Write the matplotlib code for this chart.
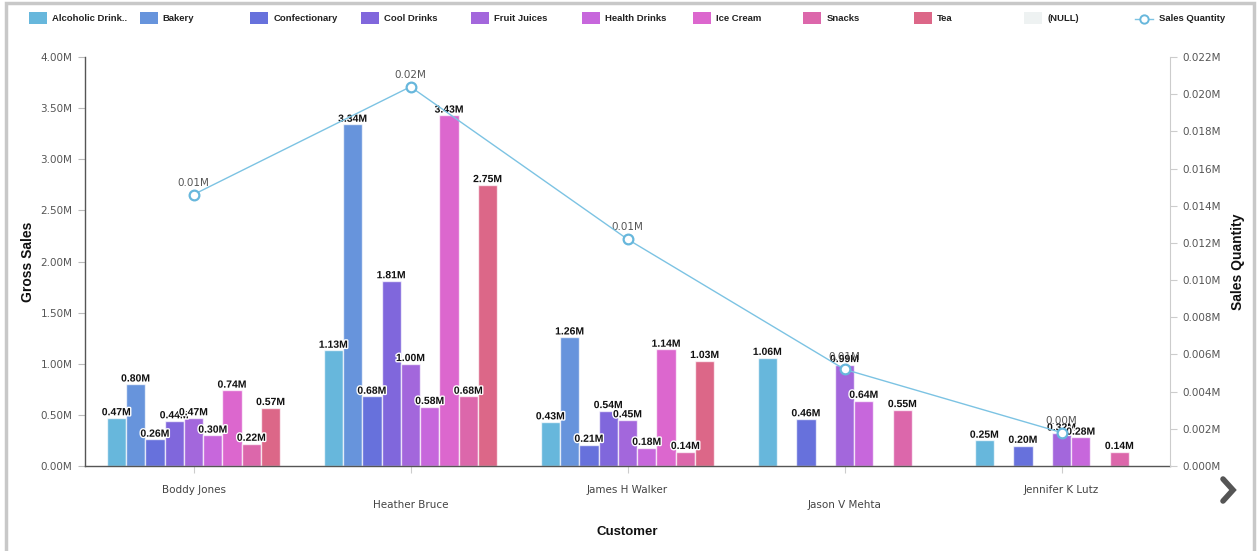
import matplotlib
matplotlib.use('Agg')
import matplotlib.pyplot as plt
import numpy as np
from matplotlib.patches import Rectangle
from matplotlib.lines import Line2D
import matplotlib.patheffects as pe
from matplotlib.ticker import FuncFormatter, MultipleLocator

# ---------------- data ----------------
customers = ["Boddy Jones", "Heather Bruce", "James H Walker", "Jason V Mehta", "Jennifer K Lutz"]
categories = ["Alcoholic Drink..", "Bakery", "Confectionary", "Cool Drinks", "Fruit Juices",
              "Health Drinks", "Ice Cream", "Snacks", "Tea", "(NULL)"]
colors = ["#67b7dc", "#6794dc", "#6771dc", "#8067dc", "#a367dc",
          "#c767dc", "#dc67ce", "#dc67ab", "#dc6788", "#eef2f2"]

gross_alcoholic = [0.47, 1.13, 0.43, 1.06, 0.25]
gross_bakery = [0.80, 3.34, 1.26, None, None]
gross_confectionary = [0.26, 0.68, 0.21, 0.46, 0.20]
gross_cool_drinks = [0.44, 1.81, 0.54, None, None]
gross_fruit_juices = [0.47, 1.00, 0.45, 0.99, 0.32]
gross_health_drinks = [0.30, 0.58, 0.18, 0.64, 0.28]
gross_ice_cream = [0.74, 3.43, 1.14, None, None]
gross_snacks = [0.22, 0.68, 0.14, 0.55, 0.14]
gross_tea = [0.57, 2.75, 1.03, None, None]
gross_null = [None, None, None, None, None]

sales_quantity = [0.0146, 0.0204, 0.0122, 0.0052, 0.0018]  # in millions

series = [gross_alcoholic, gross_bakery, gross_confectionary, gross_cool_drinks,
          gross_fruit_juices, gross_health_drinks, gross_ice_cream, gross_snacks,
          gross_tea, gross_null]

line_color = "#7cc3e3"

# ---------------- figure ----------------
W, H = 1260, 551
fig = plt.figure(figsize=(W / 100, H / 100), dpi=100)
fig.patch.set_facecolor('white')

ax = fig.add_axes([85 / W, 85 / H, (1170 - 85) / W, (466 - 57) / H])
ax.set_xlim(-0.5, len(customers) - 0.5)
ax.set_ylim(0, 4.0)

x = np.arange(len(customers))
slots = [s for s in series if any(v is not None for v in s)]
n_slots = len(slots)
group_w = 0.80
bw = group_w / n_slots

label_font = dict(family=['Liberation Sans', 'DejaVu Sans'], fontsize=7.5, fontweight='bold')
halo = [pe.withStroke(linewidth=2, foreground='white')]

slot_i = 0
for s, col in zip(series, colors):
    if not any(v is not None for v in s):
        continue
    idx = [i for i, v in enumerate(s) if v is not None]
    vals = [s[i] for i in idx]
    xs = x[idx] + (slot_i - (n_slots - 1) / 2) * bw
    cont = ax.bar(xs, vals, width=bw, color=col, edgecolor=(1, 1, 1, 0.7), linewidth=1.0, zorder=2)
    ax.bar_label(cont, labels=[f"{v:.2f}M" for v in vals], padding=0.5, color='#111',
                 path_effects=halo, zorder=4, **label_font)
    slot_i += 1

# axes styling
for sp in ['top', 'right']:
    ax.spines[sp].set_visible(False)
ax.spines['left'].set_color('#555555')
ax.spines['bottom'].set_color('#555555')
ax.spines['left'].set_linewidth(1)
ax.spines['bottom'].set_linewidth(1)

ax.yaxis.set_major_locator(MultipleLocator(0.5))
ax.yaxis.set_major_formatter(FuncFormatter(lambda v, p: f"{v:.2f}M"))
ax.tick_params(axis='y', direction='out', length=5, color='#bbbbbb', labelsize=7.5,
               labelcolor='#555555', pad=4)
ax.set_xticks(x)
ax.set_xticklabels([c if i % 2 == 0 else "\n" + c for i, c in enumerate(customers)])
for t in ax.get_xticklabels():
    t.set_linespacing(1.55)
ax.tick_params(axis='x', direction='out', length=5, color='#cccccc', labelsize=7.5,
               labelcolor='#444444', pad=9)

ax.set_ylabel('Gross Sales', fontsize=10, fontweight='bold',
              family=['Liberation Sans', 'DejaVu Sans'], va='center', color='#111')
ax.yaxis.set_label_coords((28 - 85) / (1170 - 85), 0.5)
ax.set_xlabel('Customer', fontsize=9.5, fontweight='bold',
              family=['Liberation Sans', 'DejaVu Sans'], va='center', color='#111')
ax.xaxis.set_label_coords(0.5, (466 - 532) / (466 - 57))

# secondary axis
ax2 = ax.twinx()
ax2.set_ylim(0, 0.022)
for sp in ['top', 'left', 'bottom']:
    ax2.spines[sp].set_visible(False)
ax2.spines['right'].set_color('#cccccc')
ax2.yaxis.set_major_locator(MultipleLocator(0.002))
ax2.yaxis.set_major_formatter(FuncFormatter(lambda v, p: f"{v:.3f}M"))
ax2.tick_params(axis='y', direction='out', length=5, color='#cccccc', labelsize=7.5,
                labelcolor='#555555', pad=4)
ax2.plot(x, sales_quantity, color=line_color, lw=1.0, marker='o', ms=7,
         mfc='white', mec='#67b7dc', mew=1.6, zorder=5)
for xi, v in zip(x, sales_quantity):
    ax2.annotate(f"{v:.2f}M", (xi, v), xytext=(0, 5), textcoords='offset points',
                 ha='center', va='bottom', fontsize=7.5, color='#555555')
ax2.set_ylabel('Sales Quantity', fontsize=10, fontweight='bold', rotation=90,
               family=['Liberation Sans', 'DejaVu Sans'], va='center', color='#111')
ax2.yaxis.set_label_coords((1238 - 85) / (1170 - 85), 0.5)

# ---------------- legend (manual) ----------------
leg_font = dict(family=['Liberation Sans', 'DejaVu Sans'], fontsize=6.8, fontweight='bold',
                color='#222222', va='center', ha='left')
for i, (cat, col) in enumerate(zip(categories, colors)):
    x0 = 29 + 110.6 * i
    fig.patches.append(Rectangle((x0 / W, 1 - 23.5 / H), 18 / W, 11.5 / H,
                                 transform=fig.transFigure, facecolor=col, edgecolor='none'))
    fig.text((x0 + 23) / W, 1 - 18.5 / H, cat, **leg_font)
x0 = 29 + 110.6 * len(categories)
fig.lines.append(Line2D([x0 / W, (x0 + 18) / W], [1 - 18.5 / H, 1 - 18.5 / H],
                        transform=fig.transFigure, color=line_color, lw=1.0))
fig.lines.append(Line2D([(x0 + 9) / W], [1 - 18.5 / H], transform=fig.transFigure,
                        marker='o', ms=6, mfc='white', mec='#67b7dc', mew=1.4, color=line_color))
fig.text((x0 + 24) / W, 1 - 18.5 / H, 'Sales Quantity', **leg_font)

# frame border
fig.patches.append(Rectangle((6 / W, -0.05), (1254 - 6) / W, 1 - 3 / H + 0.05,
                             transform=fig.transFigure, fill=False,
                             edgecolor='#c8c8c8', lw=2.5))
# chevron
fig.lines.append(Line2D([1223 / W, 1233 / W, 1223 / W],
                        [1 - 479 / H, 1 - 490 / H, 1 - 501 / H],
                        transform=fig.transFigure, color='#555555', lw=4,
                        solid_capstyle='round', solid_joinstyle='miter'))

fig.savefig('out.png', dpi=100)
